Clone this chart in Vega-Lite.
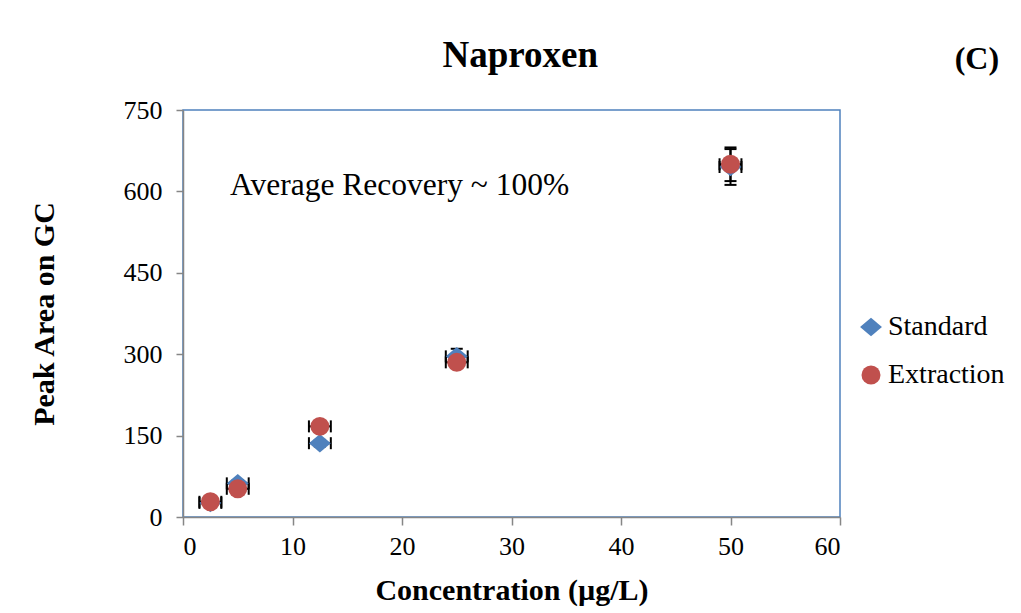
{
  "$schema": "https://vega.github.io/schema/vega-lite/v6.json",
  "autosize": {"type": "none"},
  "width": 657,
  "height": 407,
  "padding": {"left": 183, "top": 110, "right": 181, "bottom": 96},
  "background": "white",
  "datasets": {
    "pts": [
      {"series": "Standard", "conc": 2.5, "area": 26, "x_lo": 1.5, "x_hi": 3.5, "y_lo": 23, "y_hi": 29},
      {"series": "Standard", "conc": 5, "area": 62, "x_lo": 4, "x_hi": 6, "y_lo": 56, "y_hi": 68},
      {"series": "Standard", "conc": 12.5, "area": 136, "x_lo": 11.5, "x_hi": 13.5, "y_lo": 130, "y_hi": 142},
      {"series": "Standard", "conc": 25, "area": 296, "x_lo": 24, "x_hi": 26, "y_lo": 282, "y_hi": 310},
      {"series": "Standard", "conc": 50, "area": 645, "x_lo": 49, "x_hi": 51, "y_lo": 612, "y_hi": 678},
      {"series": "Extraction", "conc": 2.5, "area": 28, "x_lo": 1.5, "x_hi": 3.5, "y_lo": 25, "y_hi": 31},
      {"series": "Extraction", "conc": 5, "area": 52, "x_lo": 4, "x_hi": 6, "y_lo": 47, "y_hi": 57},
      {"series": "Extraction", "conc": 12.5, "area": 167, "x_lo": 11.5, "x_hi": 13.5, "y_lo": 160, "y_hi": 174},
      {"series": "Extraction", "conc": 25, "area": 285, "x_lo": 24, "x_hi": 26, "y_lo": 277, "y_hi": 293},
      {"series": "Extraction", "conc": 50, "area": 650, "x_lo": 49, "x_hi": 51, "y_lo": 619, "y_hi": 681}
    ]
  },
  "layer": [
    {
      "data": {"name": "pts"},
      "mark": {"type": "rule", "color": "black", "strokeWidth": 2},
      "encoding": {
        "x": {"field": "x_lo", "type": "quantitative", "title": "Concentration (µg/L)", "scale": {"domain": [0, 60], "nice": false}},
        "x2": {"field": "x_hi"},
        "y": {"field": "area", "type": "quantitative", "title": "Peak Area on GC", "scale": {"domain": [0, 750], "nice": false}}
      }
    },
    {
      "data": {"name": "pts"},
      "mark": {"type": "rule", "color": "black", "strokeWidth": 2},
      "encoding": {
        "x": {"field": "conc", "type": "quantitative", "title": "Concentration (µg/L)"},
        "y": {"field": "y_lo", "type": "quantitative", "title": "Peak Area on GC"},
        "y2": {"field": "y_hi"}
      }
    },
    {
      "data": {"name": "pts"},
      "mark": {"type": "tick", "orient": "vertical", "color": "black", "size": 12, "thickness": 2, "opacity": 1},
      "encoding": {
        "x": {"field": "x_lo", "type": "quantitative", "title": "Concentration (µg/L)"},
        "y": {"field": "area", "type": "quantitative", "title": "Peak Area on GC"}
      }
    },
    {
      "data": {"name": "pts"},
      "mark": {"type": "tick", "orient": "vertical", "color": "black", "size": 12, "thickness": 2, "opacity": 1},
      "encoding": {
        "x": {"field": "x_hi", "type": "quantitative", "title": "Concentration (µg/L)"},
        "y": {"field": "area", "type": "quantitative", "title": "Peak Area on GC"}
      }
    },
    {
      "data": {"name": "pts"},
      "mark": {"type": "tick", "orient": "horizontal", "color": "black", "size": 12, "thickness": 2, "opacity": 1},
      "encoding": {
        "x": {"field": "conc", "type": "quantitative", "title": "Concentration (µg/L)"},
        "y": {"field": "y_lo", "type": "quantitative", "title": "Peak Area on GC"}
      }
    },
    {
      "data": {"name": "pts"},
      "mark": {"type": "tick", "orient": "horizontal", "color": "black", "size": 12, "thickness": 2, "opacity": 1},
      "encoding": {
        "x": {"field": "conc", "type": "quantitative", "title": "Concentration (µg/L)"},
        "y": {"field": "y_hi", "type": "quantitative", "title": "Peak Area on GC"}
      }
    },
    {
      "data": {"name": "pts"},
      "mark": {"type": "point", "filled": true, "opacity": 1, "strokeWidth": 0},
      "encoding": {
        "x": {"field": "conc", "type": "quantitative", "title": "Concentration (µg/L)",
              "axis": {"values": [0, 10, 20, 30, 40, 50, 60], "tickSize": 8, "labelPadding": 8, "titlePadding": 16, "titleFontSize": 30}},
        "y": {"field": "area", "type": "quantitative", "title": "Peak Area on GC",
              "axis": {"values": [0, 150, 300, 450, 600, 750], "tickSize": 7, "labelPadding": 14, "titlePadding": 64, "titleFontSize": 30}},
        "color": {"field": "series", "type": "nominal", "title": null,
                  "scale": {"domain": ["Standard", "Extraction"], "range": ["#4F81BD", "#C0504D"]},
                  "legend": {"orient": "none", "legendX": 674, "legendY": 203, "title": null,
                             "labelFont": {"expr": "'Liberation Serif'"}, "labelFontSize": 28, "labelColor": "black", "labelOffset": 3,
                             "labelLimit": 300}},
        "shape": {"field": "series", "type": "nominal", "title": null,
                  "scale": {"domain": ["Standard", "Extraction"], "range": ["M -1 0 L 0 -0.85 L 1 0 L 0 0.85 Z", "circle"]},
                  "legend": {"orient": "none", "legendX": 674, "legendY": 203, "title": null,
                             "labelFont": {"expr": "'Liberation Serif'"}, "labelFontSize": 28, "labelColor": "black", "labelOffset": 3,
                             "labelLimit": 300}},
        "size": {"field": "series", "type": "nominal", "legend": null,
                 "scale": {"domain": ["Standard", "Extraction"], "range": [480, 360]}}
      }
    },
    {
      "data": {"values": [{"label": "Average Recovery ~ 100%"}]},
      "mark": {"type": "text", "align": "left", "baseline": "alphabetic", "font": "Liberation Serif", "fontSize": 31.5, "color": "black"},
      "encoding": {
        "x": {"datum": 4.3, "type": "quantitative"},
        "y": {"datum": 593, "type": "quantitative"},
        "text": {"field": "label"}
      }
    },
    {
      "data": {"values": [{"label": "(C)"}]},
      "mark": {"type": "text", "align": "center", "baseline": "alphabetic", "font": "Liberation Serif", "fontSize": 32, "fontWeight": "bold", "color": "black", "clip": false},
      "encoding": {
        "x": {"datum": 72.5, "type": "quantitative"},
        "y": {"datum": 826, "type": "quantitative"},
        "text": {"field": "label"}
      }
    },
    {
      "data": {"values": [{"label": "Naproxen"}]},
      "mark": {"type": "text", "align": "center", "baseline": "alphabetic", "font": "Liberation Serif", "fontSize": 37, "fontWeight": "bold", "color": "black", "clip": false},
      "encoding": {
        "x": {"datum": 30.8, "type": "quantitative"},
        "y": {"datum": 829, "type": "quantitative"},
        "text": {"field": "label"}
      }
    }
  ],
  "config": {
    "font": "Liberation Serif",
    "view": {"stroke": "#4F81BD", "strokeWidth": 1.5},
    "axis": {
      "grid": false,
      "domainColor": "#868686",
      "domainWidth": 1.5,
      "tickColor": "#868686",
      "tickWidth": 1.5,
      "labelFont": "Liberation Serif",
      "labelFontSize": 26,
      "labelColor": "black",
      "titleFont": "Liberation Serif",
      "titleFontSize": 28,
      "titleFontWeight": "bold",
      "titleColor": "black"
    },
    "legend": {
      "labelFont": "Liberation Serif",
      "labelFontSize": 28,
      "labelColor": "black",
      "symbolSize": 290,
      "symbolStrokeWidth": 0,
      "symbolOpacity": 1,
      "rowPadding": 20,
      "padding": 0
    }
  }
}
